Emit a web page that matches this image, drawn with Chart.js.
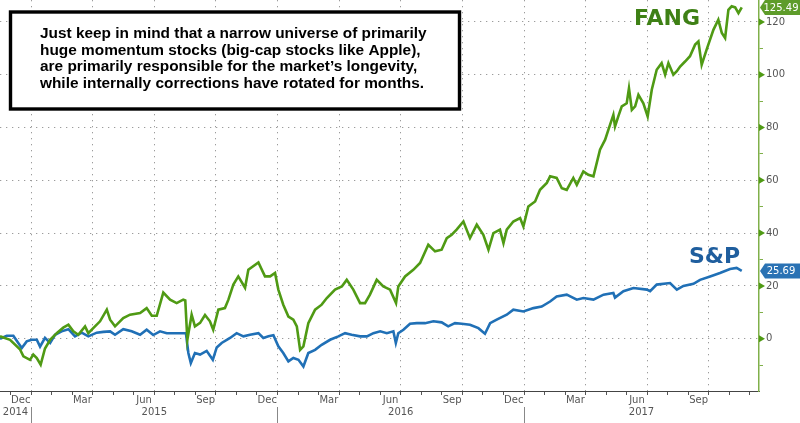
<!DOCTYPE html>
<html>
<head>
<meta charset="utf-8">
<script src="https://cdn.jsdelivr.net/npm/chart.js@4.4.1/dist/chart.umd.min.js"></script>
<style>
html,body{margin:0;padding:0;background:#fff;}
#wrap{width:800px;height:423px;position:relative;}
</style>
</head>
<body>
<div id="wrap"><canvas id="c"></canvas></div>
<script>
// x values: months since 1 Jan 2015 (fractional)
const fangMonths = [-1.51,-1.02,-0.54,-0.37,-0.05,0.11,0.28,0.47,0.68,0.93,
1.25,1.57,1.82,2.06,2.30,2.63,2.79,3.03,3.36,3.69,
3.85,4.09,4.49,4.82,5.31,5.63,5.88,6.12,6.44,6.77,
7.09,7.41,7.51,7.61,7.82,7.98,8.23,8.47,8.71,8.87,
9.12,9.44,9.61,9.85,10.09,10.42,10.58,11.07,11.39,11.64,
11.88,12.04,12.28,12.53,12.77,12.94,13.10,13.26,13.50,13.83,
14.15,14.40,14.80,15.13,15.37,15.69,16.02,16.26,16.50,16.83,
17.15,17.48,17.77,17.88,18.21,18.61,18.94,19.34,19.67,19.99,
20.24,20.48,20.72,21.05,21.37,21.70,22.02,22.27,22.51,22.83,
23.00,23.16,23.48,23.81,23.97,24.21,24.54,24.78,25.11,25.27,
25.59,25.84,26.08,26.40,26.57,26.89,27.13,27.38,27.70,27.95,
28.11,28.35,28.43,28.59,28.76,29.00,29.11,29.25,29.41,29.57,
29.81,30.02,30.22,30.46,30.70,30.87,31.03,31.27,31.44,31.60,
31.84,32.08,32.33,32.49,32.65,32.89,33.22,33.46,33.63,33.79,
33.95,34.11,34.28,34.44,34.60];
const fangValues = [0.9,-0.4,-4,-6.7,-8,-6,-7.3,-9.8,-3.7,-0.4,
2.1,4.2,5.3,2.8,1.5,4.7,2.1,4,6.6,11,
7.2,4.7,7.8,9.1,9.7,11.6,8.7,8.7,17.5,14.8,
13.5,14.8,14.5,-0.4,9.1,4.7,6,9,6.6,3.4,
11,11.6,14.8,20.5,23.6,19.3,26.1,28.9,23.6,23.6,
24.9,18.6,12.9,8.4,7.2,4.7,-4.2,-2.9,5.9,11,
12.9,15.4,18.6,19.8,22.3,18.6,13.5,13.5,16.7,22.3,
19.8,18.6,13.5,19.8,23.6,26.1,28.7,35.6,33.1,33.7,
38.1,39.4,41.3,44.4,38.1,43.2,39.4,33.7,40,41.3,
36.2,41.3,44.4,45.7,42.5,50.1,52,56.4,59,61.5,
60.9,57,56.4,60.9,58.3,63.4,62.1,61.5,71.6,75.4,
79.2,84.8,80.4,84.2,88,89.2,94.9,86.7,88,92.4,
89.2,84.2,94.3,101.9,104.4,100,104.4,100,101.3,103.1,
105,107,111.4,112.6,103.8,109.5,117,120.8,115.8,113.9,
124.6,125.9,125.5,123.3,125.49];

const spxMonths = [-1.51,-1.18,-0.86,-0.62,-0.45,-0.21,0.03,0.28,0.44,0.68,
0.93,1.17,1.49,1.82,2.14,2.47,2.79,3.20,3.52,3.85,
4.09,4.49,4.90,5.31,5.63,5.95,6.28,6.61,6.93,7.41,
7.54,7.66,7.78,7.98,8.23,8.55,8.85,9.04,9.28,9.69,
10.01,10.34,10.66,11.07,11.31,11.56,11.80,12.04,12.28,12.53,
12.77,13.02,13.26,13.50,13.83,14.15,14.56,14.96,15.29,15.61,
16.02,16.35,16.67,17.00,17.32,17.64,17.76,17.88,18.13,18.45,
18.78,19.18,19.59,19.99,20.31,20.64,20.97,21.37,21.78,22.10,
22.35,22.67,23.16,23.48,23.97,24.46,24.86,25.27,25.59,26.08,
26.57,26.89,27.38,27.87,28.35,28.43,28.84,29.33,29.98,30.14,
30.46,31.11,31.44,31.76,32.25,32.57,33.06,33.54,34.03,34.35,
34.60];
const spxValues = [0,1.1,1.1,-1.6,-3.5,-1,-0.4,-0.4,-3,0.3,
-1.6,1.5,2.8,3.6,0.9,2.3,0.9,2.3,2.6,2.8,
1.5,3.6,2.8,1.5,3.4,1.4,2.8,2.1,2.1,2.1,
2.1,-5.4,-9.2,-5.4,-6,-4.6,-8,-3.3,-1.6,0.3,
2.1,0.9,1.5,2.1,0.3,0.9,1.3,-2.9,-5.4,-8.6,
-7.3,-8,-10.5,-5.4,-4.2,-2.3,-0.4,0.9,2.1,1.5,
0.9,0.9,2.1,2.8,2.1,2.8,-1.6,2.1,3.4,5.7,
5.9,5.9,6.6,6.2,4.7,5.9,5.7,5.3,4,1.9,
5.9,7.2,9.1,11,10.3,11.6,12.2,14.1,16,16.7,
14.8,15.4,14.8,16.7,17.3,15.6,18,19.2,18.6,18,
20.5,21.1,18.6,20,20.8,22.3,23.6,24.9,26.4,26.8,
25.69];

const seriesNames = ['FANG','S&P'];
const quarterLabels = ['Dec','Mar','Jun','Sep','Dec','Mar','Jun','Sep','Dec','Mar','Jun','Sep'];
const quarterLabelMonths = [-0.5,2.5,5.5,8.5,11.5,14.5,17.5,20.5,23.5,26.5,29.5,32.5];
const yearLabels = ['2014','2015','2016','2017'];
const yearStarts = [-12,0,12,24];
const yTickValues = [-10,0,10,20,30,40,50,60,70,80,90,100,110,120];
const noteLines = [
  'Just keep in mind that a narrow universe of primarily',
  'huge momentum stocks (big-cap stocks like Apple),',
  'are primarily responsible for the market\u2019s longevity,',
  'while internally corrections have rotated for months.'
];

const X_MIN = -1.51, X_MAX = 35.44, Y_MIN = -19.8, Y_MAX = 128.3;
const GREEN = '#4f9a14', BLUE = '#2070b6', AXIS_GREEN = '#80b04a', GRID = '#9c9c9c', LABEL = '#555555';
const TRANSPARENT = 'rgba(0,0,0,0)';
const tickFont = {family: 'DejaVu Sans', size: 10};

const yearCenters = yearStarts.map(s => (Math.max(s, X_MIN) + Math.min(s + 12, X_MAX)) / 2);
const separatorMonths = yearStarts.filter(s => s > X_MIN && s < X_MAX);

const overlay = {
  id: 'overlay',
  afterDraw(chart) {
    const {ctx, scales} = chart;
    const y = scales.y;
    const ax = y.left;
    ctx.save();
    // major tick arrows on the right axis
    ctx.fillStyle = GREEN;
    yTickValues.filter(v => v % 20 === 0 && v >= 0).forEach(v => {
      const py = y.getPixelForValue(v);
      ctx.beginPath();
      ctx.moveTo(ax, py - 3.5);
      ctx.lineTo(ax + 6, py);
      ctx.lineTo(ax, py + 3.5);
      ctx.closePath();
      ctx.fill();
    });
    // last value tags
    const tag = (val, color) => {
      const py = y.getPixelForValue(val);
      ctx.fillStyle = color;
      ctx.beginPath();
      ctx.moveTo(ax + 1, py);
      ctx.lineTo(ax + 6, py - 7.5);
      ctx.lineTo(800, py - 7.5);
      ctx.lineTo(800, py + 7.5);
      ctx.lineTo(ax + 6, py + 7.5);
      ctx.closePath();
      ctx.fill();
      ctx.fillStyle = '#ffffff';
      ctx.font = '10px "DejaVu Sans"';
      ctx.textAlign = 'center';
      ctx.textBaseline = 'middle';
      ctx.fillText(val.toFixed(2), 781, py + 0.5);
    };
    tag(fangValues[fangValues.length - 1], '#5e9c2a');
    tag(spxValues[spxValues.length - 1], '#2a72b4');
    // series name labels
    ctx.textAlign = 'left';
    ctx.textBaseline = 'alphabetic';
    ctx.font = 'bold 22px "DejaVu Sans"';
    ctx.fillStyle = '#3e8015';
    ctx.fillText(seriesNames[0], 634, 25);
    ctx.fillStyle = '#1f5e9e';
    ctx.fillText(seriesNames[1], 689, 263);
    // annotation box
    ctx.fillStyle = '#ffffff';
    ctx.fillRect(10, 12, 450, 97);
    ctx.strokeStyle = '#000000';
    ctx.lineWidth = 3.4;
    ctx.strokeRect(10.5, 12, 449, 97);
    ctx.fillStyle = '#000000';
    ctx.font = 'bold 15.4px "Liberation Sans"';
    noteLines.forEach((t, i) => ctx.fillText(t, 40, 38 + i * 16.7));
    ctx.restore();
  }
};

new Chart(document.getElementById('c'), {
  type: 'line',
  data: {
    datasets: [
      {label: seriesNames[0], data: fangMonths.map((m, i) => ({x: m, y: fangValues[i]})),
       borderColor: GREEN, borderWidth: 2.6, pointRadius: 0, tension: 0, xAxisID: 'x', yAxisID: 'y'},
      {label: seriesNames[1], data: spxMonths.map((m, i) => ({x: m, y: spxValues[i]})),
       borderColor: BLUE, borderWidth: 2.6, pointRadius: 0, tension: 0, xAxisID: 'x', yAxisID: 'y'}
    ]
  },
  options: {
    responsive: true,
    maintainAspectRatio: false,
    animation: false,
    layout: {padding: 0},
    plugins: {legend: {display: false}, tooltip: {enabled: false}},
    scales: {
      x: {
        type: 'linear', position: 'bottom', weight: 0, min: X_MIN, max: X_MAX,
        afterBuildTicks(s) {
          const t = [];
          for (let m = -1; m <= 35; m++) t.push({value: m});
          quarterLabelMonths.forEach(v => t.push({value: v}));
          t.sort((a, b) => a.value - b.value);
          s.ticks = t;
        },
        afterFit(s) { s.height = 16; s.paddingLeft = 0; s.paddingRight = 0; },
        grid: {
          lineWidth: 1,
          color: c => (c.tick && Number.isInteger(c.tick.value) && ((c.tick.value % 3) + 3) % 3 === 0) ? GRID : TRANSPARENT,
          tickColor: c => (c.tick && Number.isInteger(c.tick.value)) ? '#555' : TRANSPARENT,
          tickLength: 4
        },
        border: {display: true, color: '#444', width: 1, dash: [1.3, 4.7]},
        ticks: {
          autoSkip: false, maxRotation: 0, minRotation: 0, padding: -1, color: LABEL, font: tickFont,
          callback: v => { const i = quarterLabelMonths.indexOf(v); return i >= 0 ? quarterLabels[i] : ''; }
        }
      },
      x2: {
        type: 'linear', position: 'bottom', weight: 1, min: X_MIN, max: X_MAX,
        afterBuildTicks(s) {
          const t = separatorMonths.map(v => ({value: v})).concat(yearCenters.map(v => ({value: v})));
          t.sort((a, b) => a.value - b.value);
          s.ticks = t;
        },
        afterFit(s) { s.height = 16; s.paddingLeft = 0; s.paddingRight = 0; },
        grid: {
          drawOnChartArea: false,
          tickColor: c => (c.tick && separatorMonths.includes(c.tick.value)) ? '#888' : TRANSPARENT,
          tickLength: 16
        },
        border: {display: false},
        ticks: {
          autoSkip: false, maxRotation: 0, minRotation: 0, padding: -16.5, color: LABEL, font: tickFont,
          callback: v => { const i = yearCenters.indexOf(v); return i >= 0 ? yearLabels[i] : ''; }
        }
      },
      y: {
        type: 'linear', position: 'right', min: Y_MIN, max: Y_MAX,
        afterBuildTicks(s) { s.ticks = yTickValues.map(v => ({value: v})); },
        afterFit(s) { s.width = 41; s.paddingTop = 0; s.paddingBottom = 0; },
        grid: {
          lineWidth: 1,
          color: c => (c.tick && c.tick.value % 20 === 0) ? GRID : TRANSPARENT,
          tickColor: c => (c.tick && c.tick.value % 20 === 0) ? TRANSPARENT : AXIS_GREEN,
          tickLength: 4
        },
        border: {display: true, color: AXIS_GREEN, width: 1.5, dash: [1.3, 4.7]},
        ticks: {
          padding: 3, color: LABEL, font: tickFont,
          callback: v => (v % 20 === 0 && v >= 0) ? String(v) : ''
        }
      }
    }
  },
  plugins: [overlay]
});
</script>
</body>
</html>
